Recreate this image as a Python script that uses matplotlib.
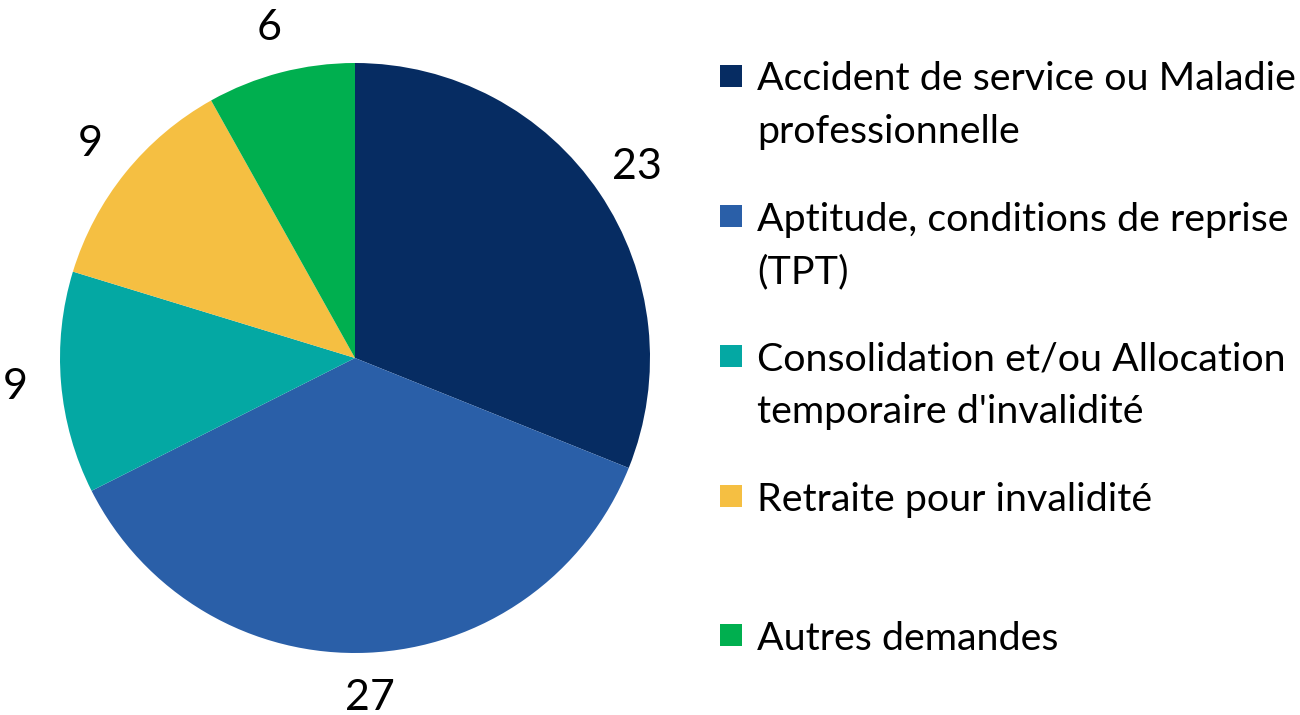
import matplotlib.pyplot as plt
from matplotlib.patches import Rectangle

# data
categories = ["Accident de service ou Maladie\nprofessionnelle",
              "Aptitude, conditions de reprise\n(TPT)",
              "Consolidation et/ou Allocation\ntemporaire d'invalidité",
              "Retraite pour invalidité",
              "Autres demandes"]
values = [23, 27, 9, 9, 6]
colors = ["#062C62", "#2A5FA8", "#04A8A3", "#F5BF42", "#00AF4F"]

plt.rcParams['font.family'] = ["Lato", "DejaVu Sans"]

W, H = 1300, 715
fig = plt.figure(figsize=(13, 7.15), dpi=100)
fig.patch.set_facecolor("white")

# pie axes: centre (355, 358) px, radius 295 px
cx, cy, r = 355, 358, 295
ax = fig.add_axes([(cx - r) / W, (H - cy - r) / H, 2 * r / W, 2 * r / H])
wedges, texts = ax.pie(values, colors=colors, startangle=90, counterclock=False,
                       radius=1, labels=[str(v) for v in values],
                       labeldistance=1.155,
                       wedgeprops=dict(linewidth=0),
                       textprops=dict(fontsize=31, color="black"))
for t in texts:
    t.set_ha("center")
    t.set_va("center")
ax.set_xlim(-1, 1)
ax.set_ylim(-1, 1)
ax.set_aspect("equal")
ax.axis("off")

# legend drawn in figure pixels
slot_y = [76, 216, 356, 496, 635]
line_gap = 53
sq = 22
for i, (lab, col) in enumerate(zip(categories, colors)):
    y = slot_y[i]
    fig.patches.append(Rectangle((720 / W, (H - y - sq / 2) / H), sq / W, sq / H,
                                 transform=fig.transFigure, facecolor=col,
                                 edgecolor="none"))
    for j, line in enumerate(lab.split("\n")):
        fig.text(757 / W, (H - y - j * line_gap) / H, line, fontsize=28.4,
                 ha="left", va="center_baseline", color="black")

fig.savefig("out.png", dpi=100)
